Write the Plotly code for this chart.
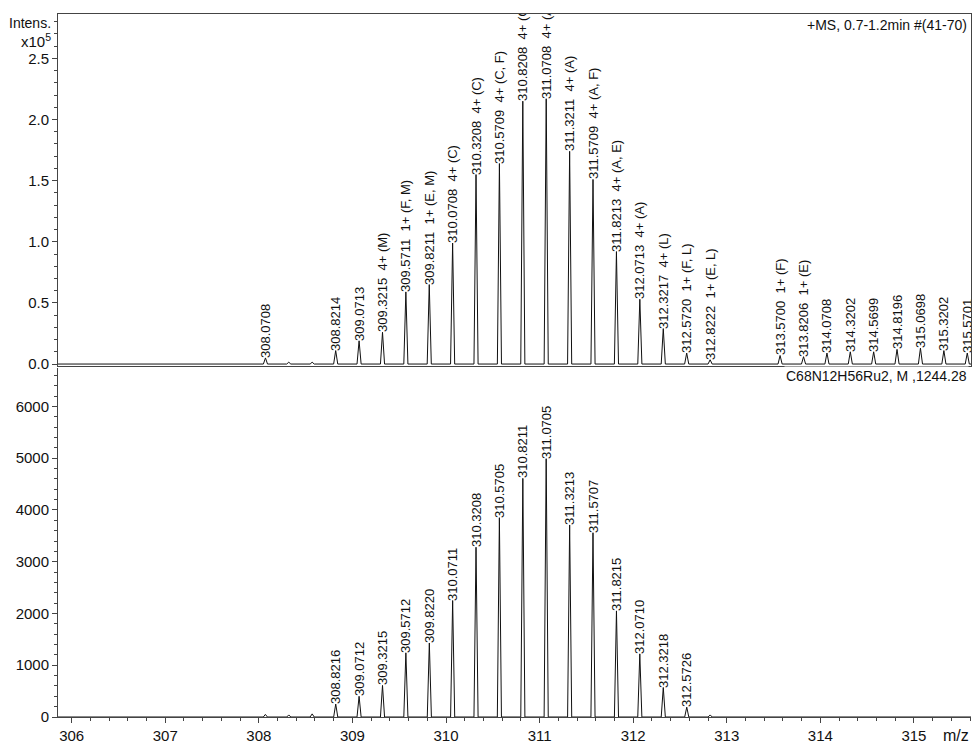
import plotly.graph_objects as go

# ---------------- data ----------------
# Top panel: measured spectrum (+MS), intensities in units of 1e5
top_mz = [308.0708, 308.3200, 308.5700, 308.8214, 309.0713, 309.3215, 309.5711, 309.8211,
          310.0708, 310.3208, 310.5709, 310.8208, 311.0708, 311.3211, 311.5709, 311.8213,
          312.0713, 312.3217, 312.5720, 312.8222, 313.5700, 313.8206, 314.0708, 314.3202,
          314.5699, 314.8196, 315.0698, 315.3202, 315.5701]
top_int = [0.05, 0.015, 0.015, 0.11, 0.19, 0.26, 0.59, 0.65,
           0.99, 1.55, 1.64, 2.15, 2.17, 1.74, 1.51, 0.92,
           0.53, 0.29, 0.09, 0.035, 0.07, 0.06, 0.09, 0.10,
           0.10, 0.12, 0.13, 0.11, 0.09]
top_lbl = ["308.0708", "", "", "308.8214", "309.0713", "309.3215  4+ (M)", "309.5711  1+ (F, M)",
           "309.8211  1+ (E, M)", "310.0708  4+ (C)", "310.3208  4+ (C)", "310.5709  4+ (C, F)",
           "310.8208  4+ (C, F)", "311.0708  4+ (A, C)", "311.3211  4+ (A)", "311.5709  4+ (A, F)",
           "311.8213  4+ (A, E)", "312.0713  4+ (A)", "312.3217  4+ (L)", "312.5720  1+ (F, L)",
           "312.8222  1+ (E, L)", "313.5700  1+ (F)", "313.8206  1+ (E)", "314.0708", "314.3202",
           "314.5699", "314.8196", "315.0698", "315.3202", "315.5701"]

# Bottom panel: simulated pattern C68N12H56Ru2
bot_mz = [308.0700, 308.3200, 308.5700, 308.8216, 309.0712, 309.3215, 309.5712, 309.8220,
          310.0711, 310.3208, 310.5705, 310.8211, 311.0705, 311.3213, 311.5707, 311.8215,
          312.0710, 312.3218, 312.5726, 312.8230]
bot_int = [50, 40, 60, 250, 400, 610, 1240, 1430,
           2250, 3280, 3850, 4610, 4990, 3710, 3560, 2050,
           1220, 570, 190, 40]
bot_lbl = ["", "", "", "308.8216", "309.0712", "309.3215", "309.5712", "309.8220",
           "310.0711", "310.3208", "310.5705", "310.8211", "311.0705", "311.3213", "311.5707",
           "311.8215", "312.0710", "312.3218", "312.5726", ""]

x_ticks = [306, 307, 308, 309, 310, 311, 312, 313, 314, 315]
top_yticks = [0.0, 0.5, 1.0, 1.5, 2.0, 2.5]
bot_yticks = [0, 1000, 2000, 3000, 4000, 5000, 6000]

X_RANGE = [305.854, 315.61]
PEAK_HALF_WIDTH = 0.022
FONT = "Liberation Sans, Arial, sans-serif"
AXC = "#444444"


def profile(mz, inten):
    xs, ys = [X_RANGE[0]], [0]
    for m, h in sorted(zip(mz, inten)):
        xs += [m - PEAK_HALF_WIDTH, m, m + PEAK_HALF_WIDTH]
        ys += [0, h, 0]
    xs.append(X_RANGE[1])
    ys.append(0)
    return xs, ys


def nb(s):
    # keep the double space between mass and charge
    return s.replace("  ", "\u00a0 ") if s else " "


fig = go.Figure()

tx, ty = profile(top_mz, top_int)
fig.add_trace(go.Scatter(x=tx, y=ty, mode="lines", line=dict(color="#111111", width=1),
                         xaxis="x2", yaxis="y2", hoverinfo="skip", showlegend=False))
fig.add_trace(go.Bar(x=top_mz, y=top_int, text=[nb(s) for s in top_lbl], width=0.01,
                     marker=dict(color="rgba(0,0,0,0)", line=dict(width=0)),
                     textposition="outside", textangle=-90, constraintext="none",
                     cliponaxis=True, textfont=dict(family=FONT, size=13, color="#111111"),
                     xaxis="x2", yaxis="y2", hoverinfo="skip", showlegend=False))

bx, by = profile(bot_mz, bot_int)
fig.add_trace(go.Scatter(x=bx, y=by, mode="lines", line=dict(color="#111111", width=1),
                         xaxis="x", yaxis="y", hoverinfo="skip", showlegend=False))
fig.add_trace(go.Bar(x=bot_mz, y=bot_int, text=[nb(s) for s in bot_lbl], width=0.01,
                     marker=dict(color="rgba(0,0,0,0)", line=dict(width=0)),
                     textposition="outside", textangle=-90, constraintext="none",
                     cliponaxis=True, textfont=dict(family=FONT, size=13, color="#111111"),
                     xaxis="x", yaxis="y", hoverinfo="skip", showlegend=False))

axis_common = dict(showgrid=False, zeroline=False, linecolor=AXC, linewidth=1,
                   tickcolor=AXC, tickfont=dict(family=FONT, size=15, color="#111111"))

fig.update_layout(
    width=975, height=747,
    margin=dict(l=58, r=3, t=14, b=20),
    paper_bgcolor="white", plot_bgcolor="white",
    bargap=0, barmode="overlay",
    showlegend=False,
    font=dict(family=FONT, size=14, color="#111111"),
    xaxis=dict(**axis_common, range=X_RANGE, domain=[0, 1], anchor="y",
               tickvals=x_ticks, ticks="outside", ticklen=5, showline=True,
               minor=dict(dtick=0.2, tick0=306, ticks="outside", ticklen=3, tickcolor=AXC)),
    yaxis=dict(**axis_common, range=[0, 6743], domain=[0, 0.4965], anchor="x",
               tickvals=bot_yticks, ticks="outside", ticklen=5, showline=True,
               minor=dict(dtick=200, tick0=0, ticks="outside", ticklen=3, tickcolor=AXC)),
    xaxis2=dict(**axis_common, range=X_RANGE, domain=[0, 1], anchor="y2", matches="x",
                showticklabels=False, ticks="", showline=True, mirror=True),
    yaxis2=dict(**axis_common, range=[-0.016, 2.863], domain=[0.4993, 1], anchor="x2",
                tickvals=top_yticks, ticktext=["%.1f" % v for v in top_yticks],
                ticks="outside", ticklen=5, showline=True, mirror=True,
                minor=dict(dtick=0.1, tick0=0, ticks="outside", ticklen=3, tickcolor=AXC)),
    annotations=[
        dict(text="Intens.", xref="paper", yref="paper", x=-0.006, y=0.987,
             xanchor="right", yanchor="middle", showarrow=False, font=dict(size=14)),
        dict(text="x10<sup>5</sup>", xref="paper", yref="paper", x=-0.006, y=0.963,
             xanchor="right", yanchor="middle", showarrow=False, font=dict(size=15)),
        dict(text="+MS, 0.7-1.2min #(41-70)", xref="paper", yref="paper", x=0.998, y=0.999,
             xanchor="right", yanchor="top", showarrow=False, font=dict(size=14)),
        dict(text="C68N12H56Ru2, M ,1244.28", xref="paper", yref="paper", x=0.998, y=0.499,
             xanchor="right", yanchor="top", showarrow=False, font=dict(size=14),
             bgcolor="white"),
        dict(text="m/z", xref="paper", yref="paper", x=1.0, y=-0.011,
             xanchor="right", yanchor="top", showarrow=False, font=dict(size=16)),
    ],
)

fig.write_html("out.html")
